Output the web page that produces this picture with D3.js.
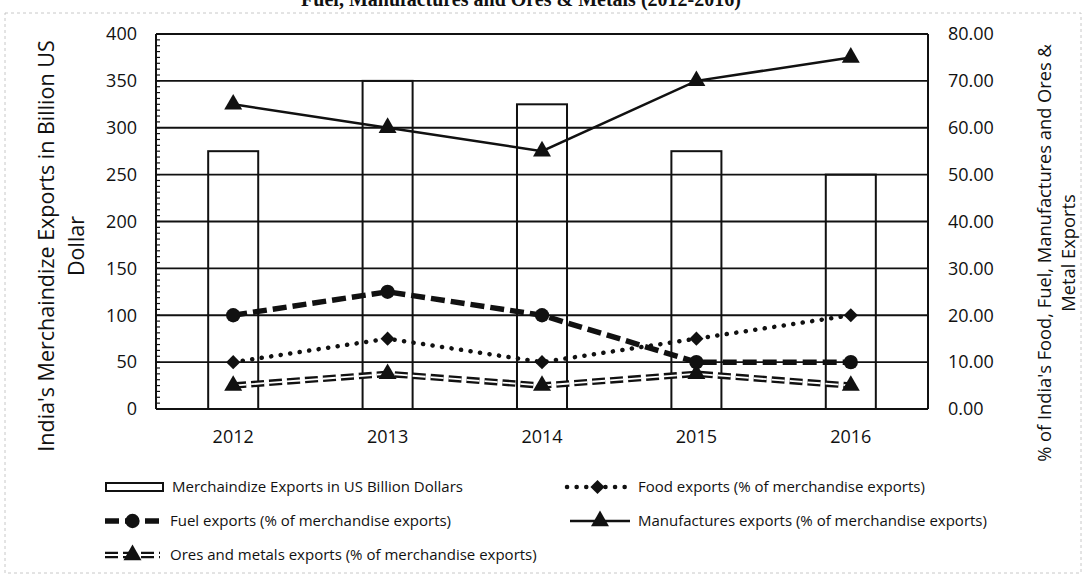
<!DOCTYPE html>
<html>
<head>
<meta charset="utf-8">
<script src="https://cdn.jsdelivr.net/npm/d3@7"></script>
<style>
  html, body { margin: 0; padding: 0; background: #fff; }
  svg { display: block; }
  text { fill: #111; }
</style>
</head>
<body>
<svg id="chart" width="1088" height="576"></svg>
<script>
// ---- data ----
const years = ["2012", "2013", "2014", "2015", "2016"];
const merchandise = [275, 350, 325, 275, 250];       // US$ billion (left axis)
const foodPct = [10, 15, 10, 15, 20];                // % (right axis)
const fuelPct = [20, 25, 20, 10, 10];
const manufPct = [65, 60, 55, 70, 75];
const oresPct = [5, 7.5, 5, 7.5, 5];
const leftTicks = [0, 50, 100, 150, 200, 250, 300, 350, 400];
const rightTicks = [0, 10, 20, 30, 40, 50, 60, 70, 80];

const titleText = "Fuel, Manufactures and Ores & Metals (2012-2016)";
const leftTitle = ["India's Merchaindize Exports in Billion US", "Dollar"];
const rightTitle = ["% of India's Food, Fuel, Manufactures and Ores &", "Metal Exports"];

// ---- layout ----
const svg = d3.select("#chart");
const L = 156, R = 928, T = 34, B = 409;
const FONT = "'Open Sans', 'Liberation Sans', sans-serif";

const x = d3.scaleBand().domain(years).range([L, R]).paddingInner(0.676).paddingOuter(0.338);
const cx = d => x(d) + x.bandwidth() / 2;
const yL = d3.scaleLinear().domain([0, 400]).range([B, T]);
const yR = d3.scaleLinear().domain([0, 80]).range([B, T]);

// outer faint frame
svg.append("rect").attr("x", 5).attr("y", 13).attr("width", 1076).attr("height", 560)
  .attr("fill", "none").attr("stroke", "#c8c8c8").attr("stroke-width", 1).attr("stroke-dasharray", "3 3");

// title (cut off at top, as in the source image)
svg.append("text").attr("x", 521).attr("y", 6).attr("text-anchor", "middle")
  .attr("font-family", "'Liberation Serif', 'DejaVu Serif', serif").attr("font-weight", "bold")
  .attr("font-size", 20).text(titleText);

// gridlines
svg.append("g").selectAll("line").data(leftTicks).join("line")
  .attr("x1", L).attr("x2", R).attr("y1", d => yL(d)).attr("y2", d => yL(d))
  .attr("stroke", "#111").attr("stroke-width", 1.8);

// plot side borders
svg.append("line").attr("x1", L).attr("x2", L).attr("y1", T).attr("y2", B).attr("stroke", "#111").attr("stroke-width", 2);
svg.append("line").attr("x1", R).attr("x2", R).attr("y1", T).attr("y2", B).attr("stroke", "#111").attr("stroke-width", 2);

// minor ticks on left axis
svg.append("g").selectAll("line").data(d3.range(0, 400, 6.25)).join("line")
  .attr("x1", L).attr("x2", L + 4).attr("y1", d => yL(d)).attr("y2", d => yL(d))
  .attr("stroke", "#111").attr("stroke-width", 1.2);

// axes
const axL = svg.append("g").attr("transform", `translate(${L},0)`)
  .call(d3.axisLeft(yL).tickValues(leftTicks).tickSize(0).tickPadding(19));
axL.select(".domain").remove();
axL.selectAll("text").attr("font-family", FONT).attr("font-size", 18).attr("fill", "#111");

const axR = svg.append("g").attr("transform", `translate(${R},0)`)
  .call(d3.axisRight(yR).tickValues(rightTicks).tickSize(0).tickPadding(20).tickFormat(d3.format(".2f")));
axR.select(".domain").remove();
axR.selectAll("text").attr("font-family", FONT).attr("font-size", 18).attr("fill", "#111");

const axB = svg.append("g").attr("transform", `translate(0,${B})`)
  .call(d3.axisBottom(x).tickSize(0).tickPadding(21));
axB.select(".domain").remove();
axB.selectAll("text").attr("font-family", FONT).attr("font-size", 18).attr("fill", "#111");

// axis titles
const lt = svg.append("text").attr("transform", "translate(46,246) rotate(-90)")
  .attr("text-anchor", "middle").attr("font-family", FONT).attr("font-size", 21.5);
lt.append("tspan").attr("x", 0).attr("dy", "0.35em").text(leftTitle[0]);
lt.append("tspan").attr("x", 0).attr("dy", 30).text(leftTitle[1]);

const rt = svg.append("text").attr("transform", "translate(1045,253) rotate(-90)")
  .attr("text-anchor", "middle").attr("font-family", FONT).attr("font-size", 18.3);
rt.append("tspan").attr("x", 0).attr("dy", "0.35em").text(rightTitle[0]);
rt.append("tspan").attr("x", 0).attr("dy", 24).text(rightTitle[1]);

// bars
svg.append("g").selectAll("rect").data(years).join("rect")
  .attr("x", d => x(d)).attr("width", x.bandwidth())
  .attr("y", (d, i) => yL(merchandise[i])).attr("height", (d, i) => B - yL(merchandise[i]))
  .attr("fill", "none").attr("stroke", "#111").attr("stroke-width", 2);

// line styles
const styles = {
  food: { w: 4.5, dash: "0.1 9.5", cap: "round" },
  fuel: { w: 5.5, dash: "14 6", cap: "butt" },
  manuf: { w: 2.5, dash: null, cap: "butt" },
  ores: { w: 6.5, dash: "13 5", cap: "butt", inner: 1.8 }
};

const sym = {
  circle: { d: d3.symbol(d3.symbolCircle, 160), rot: 0 },
  diamond: { d: d3.symbol(d3.symbolSquare, 100), rot: 45 },
  triangle: { d: d3.symbol(d3.symbolTriangle, 140), rot: 0 }
};

function drawSeries(vals, st, marker) {
  const pts = years.map((d, i) => [cx(d), yR(vals[i])]);
  const line = d3.line();
  const p = svg.append("path").attr("d", line(pts)).attr("fill", "none")
    .attr("stroke", "#111").attr("stroke-width", st.w).attr("stroke-linecap", st.cap);
  if (st.dash) p.attr("stroke-dasharray", st.dash);
  if (st.inner) {
    svg.append("path").attr("d", line(pts)).attr("fill", "none")
      .attr("stroke", "#fff").attr("stroke-width", st.inner).attr("stroke-dasharray", st.dash);
  }
  svg.append("g").selectAll("path").data(pts).join("path")
    .attr("transform", d => `translate(${d[0]},${d[1]}) rotate(${sym[marker].rot})`)
    .attr("d", sym[marker].d).attr("fill", "#111");
}
drawSeries(oresPct, styles.ores, "triangle");
drawSeries(foodPct, styles.food, "diamond");
drawSeries(fuelPct, styles.fuel, "circle");
drawSeries(manufPct, styles.manuf, "triangle");

// legend
const LF = 15;
function legLine(x0, x1, y, st, marker) {
  const p = svg.append("line").attr("x1", x0).attr("x2", x1).attr("y1", y).attr("y2", y)
    .attr("stroke", "#111").attr("stroke-width", st.w).attr("stroke-linecap", st.cap);
  if (st.dash) p.attr("stroke-dasharray", st.dash);
  if (st.inner) svg.append("line").attr("x1", x0).attr("x2", x1).attr("y1", y).attr("y2", y)
    .attr("stroke", "#fff").attr("stroke-width", st.inner).attr("stroke-dasharray", st.dash);
  svg.append("path").attr("transform", `translate(${(x0 + x1) / 2},${y}) rotate(${sym[marker].rot})`)
    .attr("d", sym[marker].d).attr("fill", "#111");
}
function legText(x0, y, t) {
  svg.append("text").attr("x", x0).attr("y", y).attr("dy", "0.35em")
    .attr("font-family", FONT).attr("font-size", LF).text(t);
}
svg.append("rect").attr("x", 106).attr("y", 483).attr("width", 57).attr("height", 8)
  .attr("fill", "#fff").attr("stroke", "#111").attr("stroke-width", 2);
legText(172, 487, "Merchaindize Exports in US Billion Dollars");
legLine(567, 628, 487, styles.food, "diamond");
legText(638, 487, "Food exports (% of merchandise exports)");
legLine(105, 160, 521, styles.fuel, "circle");
legText(170, 521, "Fuel exports (% of merchandise exports)");
legLine(570, 630, 521, styles.manuf, "triangle");
legText(638, 521, "Manufactures exports (% of merchandise exports)");
legLine(105, 160, 555, styles.ores, "triangle");
legText(170, 555, "Ores and metals exports (% of merchandise exports)");
</script>
</body>
</html>
